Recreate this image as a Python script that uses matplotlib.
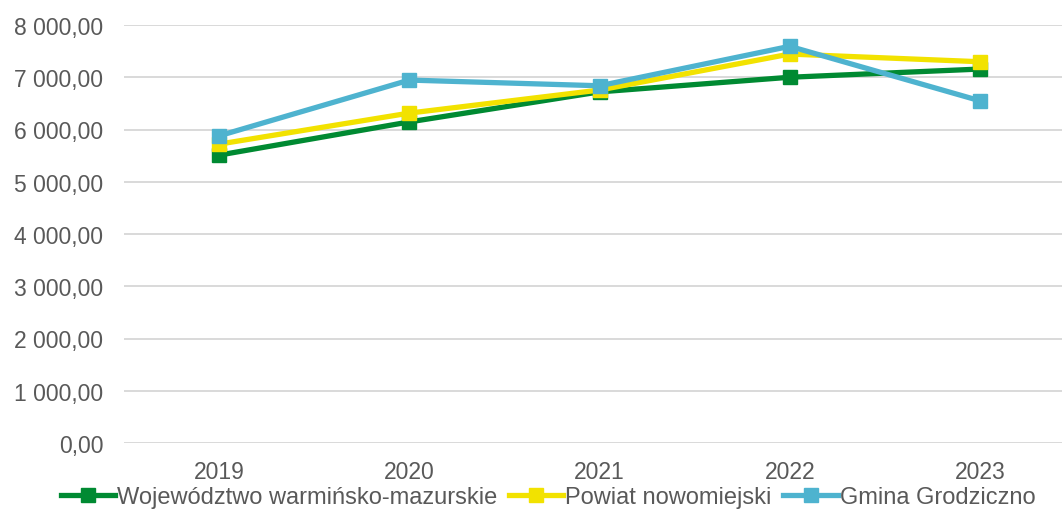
import matplotlib.pyplot as plt
from matplotlib.ticker import FuncFormatter

years = ["2019", "2020", "2021", "2022", "2023"]
wojewodztwo = [5510, 6145, 6720, 7000, 7157]
powiat = [5720, 6314, 6755, 7444, 7297]
gmina = [5879, 6946, 6837, 7592, 6550]

series = [
    ("Województwo warmińsko-mazurskie", wojewodztwo, "#008A32"),
    ("Powiat nowomiejski", powiat, "#F2E200"),
    ("Gmina Grodziczno", gmina, "#4EB3CF"),
]

plt.rcParams['font.family'] = ['Liberation Sans', 'DejaVu Sans']

fig = plt.figure(figsize=(10.62, 5.10), dpi=100)
ax = fig.add_axes([124 / 1062, 66 / 510, 951 / 1062, 418 / 510])

x = list(range(len(years)))
for label, vals, col in series:
    ax.plot(x, vals, color=col, lw=3.8, marker='s', markersize=10,
            label=label, solid_joinstyle='round')

ax.set_xlim(-0.5, len(years) - 0.5)
ax.set_ylim(0, 8000)
ax.set_yticks(range(0, 8001, 1000))


def fmt(v, pos):
    s = f"{v:,.2f}".replace(",", " ").replace(".", ",")
    return s


ax.yaxis.set_major_formatter(FuncFormatter(fmt))
ax.set_xticks(x)
ax.set_xticklabels(years)
ax.tick_params(axis='both', length=0, labelsize=16.5, colors='#595959')
ax.tick_params(axis='y', pad=15)
ax.tick_params(axis='x', pad=12)
ax.grid(axis='y', color='#D9D9D9', lw=1.4)
ax.set_axisbelow(True)
for sp in ax.spines.values():
    sp.set_visible(False)

fig.legend(loc='center', bbox_to_anchor=(548 / 1062, 1 - 498 / 510), ncol=3,
           frameon=False, fontsize=17, handlelength=2.3, handletextpad=0.08,
           columnspacing=0.5, labelcolor='#595959')

fig.savefig("out.png", dpi=100)
